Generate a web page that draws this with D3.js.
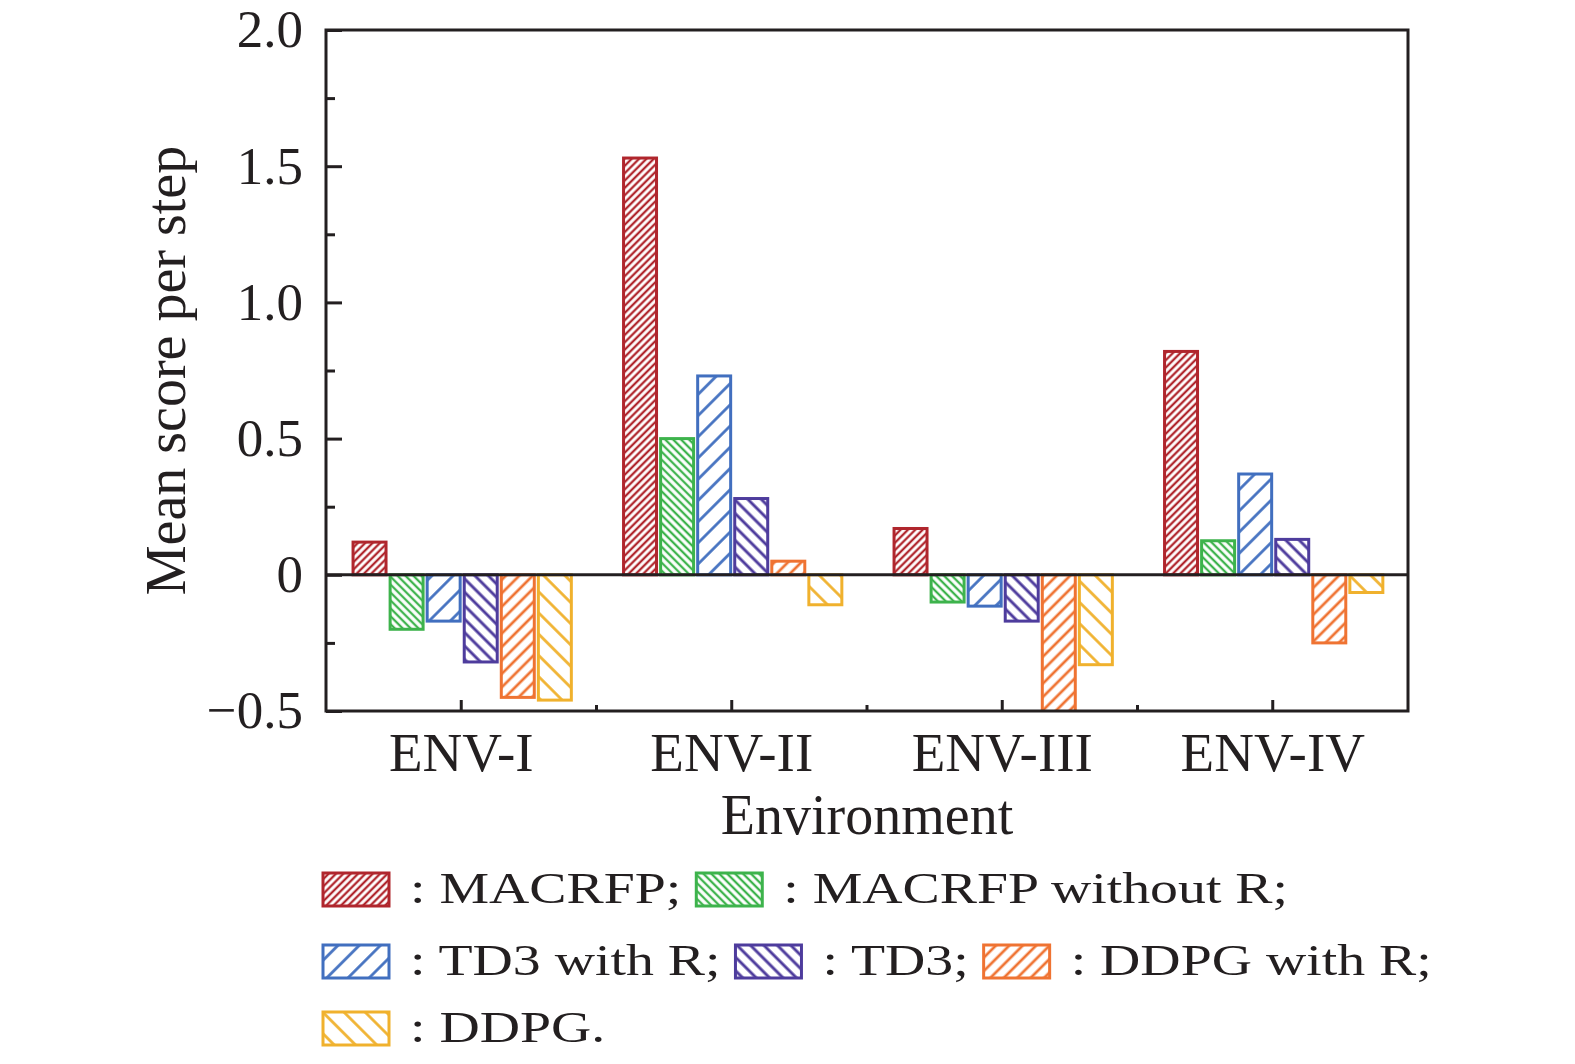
<!DOCTYPE html>
<html>
<head>
<meta charset="utf-8">
<script src="https://cdn.jsdelivr.net/npm/d3@7"></script>
<style>
  body { margin: 0; background: #fff; }
  text { font-family: "Liberation Serif", "Times New Roman", serif; fill: #231f20; }
</style>
</head>
<body>
<div id="chart"></div>
<script>
// data
const envs = ["ENV-I", "ENV-II", "ENV-III", "ENV-IV"]
const seriesNames = ["MACRFP", "MACRFP without R", "TD3 with R", "TD3", "DDPG with R", "DDPG"]
const macrfp    = [0.12, 1.53, 0.17, 0.82]
const macrfpNoR = [-0.20, 0.50, -0.10, 0.125]
const td3R      = [-0.17, 0.73, -0.115, 0.37]
const td3       = [-0.32, 0.28, -0.17, 0.13]
const ddpgR     = [-0.45, 0.05, -0.52, -0.25]
const ddpg      = [-0.46, -0.11, -0.33, -0.065]
const yTicks = [-0.5, 0, 0.5, 1.0, 1.5, 2.0]
const yTickLabels = ["\u22120.5", "0", "0.5", "1.0", "1.5", "2.0"]
const yMinorTicks = [-0.25, 0.25, 0.75, 1.25, 1.75]
const legendLabels = [": MACRFP;", ": MACRFP without R;", ": TD3 with R;", ": TD3;", ": DDPG with R;", ": DDPG."]
const legendRows = [[0, 1], [2, 3, 4], [5]]

const colors = ["#b0262d", "#3db34c", "#416fbf", "#4e3c9d", "#ef7332", "#f0b12d"]
// hatch: angle, spacing, line width
const hatch = [
  { a: 45, s: 5.2, w: 2.3 },
  { a: -45, s: 5.6, w: 2.3 },
  { a: 45, s: 15, w: 2.7 },
  { a: -45, s: 9.5, w: 2.9 },
  { a: 45, s: 9.5, w: 2.7 },
  { a: -45, s: 15, w: 2.7 }
]
const allValues = [macrfp, macrfpNoR, td3R, td3, ddpgR, ddpg]

const W = 1575, H = 1064
const plot = { left: 326, right: 1408, top: 30, bottom: 711 }

const svg = d3.select("#chart").append("svg")
  .attr("width", W)
  .attr("height", H)

const defs = svg.append("defs")
hatch.forEach(function (h, i) {
  const p = defs.append("pattern")
    .attr("id", "hatch" + i)
    .attr("patternUnits", "userSpaceOnUse")
    .attr("width", h.s)
    .attr("height", h.s)
    .attr("patternTransform", "rotate(" + h.a + ")")
  p.append("rect").attr("width", h.s).attr("height", h.s).attr("fill", "#fff")
  p.append("line")
    .attr("x1", h.s / 2).attr("x2", h.s / 2)
    .attr("y1", -1).attr("y2", h.s + 1)
    .attr("stroke", colors[i])
    .attr("stroke-width", h.w)
})
defs.append("clipPath").attr("id", "plotClip")
  .append("rect")
  .attr("x", plot.left).attr("y", plot.top)
  .attr("width", plot.right - plot.left).attr("height", plot.bottom - plot.top)

const y = d3.scaleLinear().domain([-0.5, 2.0]).range([plot.bottom, plot.top])
const x0 = d3.scaleBand().domain(envs).range([plot.left, plot.right])
const bw = x0.bandwidth()
const x1 = d3.scaleBand().domain(d3.range(seriesNames.length))
  .range([bw * 0.1, bw * 0.907])
  .paddingInner(0.11)

// bars
const rows = []
envs.forEach(function (env, e) {
  allValues.forEach(function (vals, s) {
    rows.push({ env: env, s: s, v: vals[e] })
  })
})

svg.append("g")
  .attr("clip-path", "url(#plotClip)")
  .selectAll("rect")
  .data(rows)
  .enter().append("rect")
  .attr("x", d => x0(d.env) + x1(d.s))
  .attr("y", d => y(Math.max(0, d.v)))
  .attr("width", x1.bandwidth())
  .attr("height", d => Math.abs(y(d.v) - y(0)))
  .attr("fill", d => "url(#hatch" + d.s + ")")
  .attr("stroke", d => colors[d.s])
  .attr("stroke-width", 3)

// zero line
svg.append("line")
  .attr("x1", plot.left).attr("x2", plot.right)
  .attr("y1", y(0)).attr("y2", y(0))
  .attr("stroke", "#231f20").attr("stroke-width", 3)

// y axis (ticks inward)
const yAxis = svg.append("g")
  .attr("transform", "translate(" + plot.left + ",0)")
  .call(d3.axisLeft(y).tickValues(yTicks)
    .tickFormat((d, i) => yTickLabels[i])
    .tickSizeInner(-16).tickSizeOuter(0).tickPadding(23))
yAxis.select(".domain").remove()
yAxis.selectAll("line").attr("stroke", "#231f20").attr("stroke-width", 3)
yAxis.selectAll("text").style("font-size", "53px").attr("fill", "#231f20")

const yMinor = svg.append("g")
  .attr("transform", "translate(" + plot.left + ",0)")
  .call(d3.axisLeft(y).tickValues(yMinorTicks).tickFormat("").tickSizeInner(-9).tickSizeOuter(0))
yMinor.select(".domain").remove()
yMinor.selectAll("line").attr("stroke", "#231f20").attr("stroke-width", 3)

// x axis (ticks inward)
const xAxis = svg.append("g")
  .attr("transform", "translate(0," + plot.bottom + ")")
  .call(d3.axisBottom(x0).tickSizeInner(-11).tickSizeOuter(0).tickPadding(21))
xAxis.select(".domain").remove()
xAxis.selectAll("line").attr("stroke", "#231f20").attr("stroke-width", 3)
xAxis.selectAll("text").style("font-size", "55px").attr("fill", "#231f20")

// minor x ticks between groups
svg.append("g").selectAll("line")
  .data(envs.slice(1))
  .enter().append("line")
  .attr("x1", d => x0(d)).attr("x2", d => x0(d))
  .attr("y1", plot.bottom).attr("y2", plot.bottom - 6)
  .attr("stroke", "#231f20").attr("stroke-width", 3)

// frame
svg.append("rect")
  .attr("x", plot.left).attr("y", plot.top)
  .attr("width", plot.right - plot.left).attr("height", plot.bottom - plot.top)
  .attr("fill", "none").attr("stroke", "#231f20").attr("stroke-width", 3)

// axis titles
svg.append("text")
  .attr("x", (plot.left + plot.right) / 2)
  .attr("y", 834)
  .attr("text-anchor", "middle")
  .style("font-size", "56px")
  .text("Environment")

svg.append("text")
  .attr("transform", "translate(185," + ((plot.top + plot.bottom) / 2) + ") rotate(-90)")
  .attr("text-anchor", "middle")
  .style("font-size", "56px")
  .text("Mean score per step")

// legend
const rowTop = [873, 945, 1012]
const swW = 66, swH = 33, stretch = 1.24
legendRows.forEach(function (items, r) {
  let cx = 323
  items.forEach(function (s) {
    const g = svg.append("g")
    g.append("rect")
      .attr("x", cx).attr("y", rowTop[r])
      .attr("width", swW).attr("height", swH)
      .attr("fill", "url(#hatch" + s + ")")
      .attr("stroke", colors[s]).attr("stroke-width", 3)
    const t = g.append("text")
      .attr("transform", "translate(" + (cx + swW + 21) + "," + (rowTop[r] + swH - 3) + ") scale(" + stretch + ",1)")
      .style("font-size", "45px")
      .text(legendLabels[s])
    const tw = t.node().getComputedTextLength() * stretch
    cx = cx + swW + 21 + tw + 15
  })
})
</script>
</body>
</html>
